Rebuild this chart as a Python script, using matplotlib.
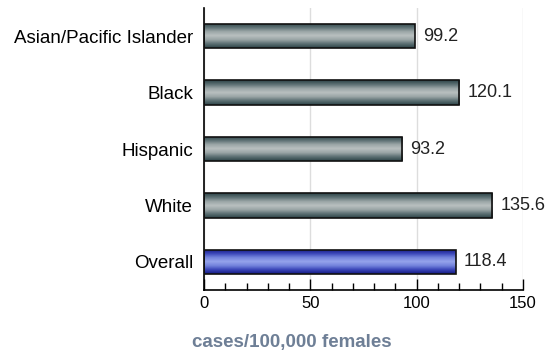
import numpy as np
import matplotlib.pyplot as plt
from matplotlib.patches import Rectangle
from matplotlib.ticker import MultipleLocator
from matplotlib.colors import LinearSegmentedColormap

plt.rcParams['font.family'] = ['Liberation Sans', 'DejaVu Sans']

# data
categories = ['Asian/Pacific Islander', 'Black', 'Hispanic', 'White', 'Overall']
values = [99.2, 120.1, 93.2, 135.6, 118.4]
labels = ['99.2', '120.1', '93.2', '135.6', '118.4']

fig = plt.figure(figsize=(5.46, 3.54), dpi=100)
ax = fig.add_axes([204/546, 64/354, 319/546, 282/354])

# gradient colour maps (dark edge -> light centre -> dark edge)
grey_grad = ['#2c4448', '#5d7073', '#9aa5a6', '#b9c0c0', '#9aa5a6', '#5d7073', '#2c4448']
blue_grad = ['#141a80', '#3a45b8', '#7383dc', '#96a4ec', '#7383dc', '#3a45b8', '#141a80']
cm_grey = LinearSegmentedColormap.from_list('g', grey_grad)
cm_blue = LinearSegmentedColormap.from_list('b', blue_grad)
grad = np.linspace(0, 1, 64).reshape(-1, 1)

h = 0.43
for i, (v, lab) in enumerate(zip(values, labels)):
    cmap = cm_blue if categories[i] == 'Overall' else cm_grey
    rect = Rectangle((0, i - h/2), v, h, facecolor='none', edgecolor='#111111', lw=1.2, zorder=3)
    ax.add_patch(rect)
    im = ax.imshow(grad, cmap=cmap, aspect='auto', extent=(0, v, i + h/2, i - h/2), zorder=2)
    im.set_clip_path(rect)
    ax.text(v + 3.7, i, lab, va='center', ha='left', fontsize=13, color='#222222')

ax.set_xlim(0, 150)
ax.set_ylim(4.5, -0.5)
ax.set_yticks(range(len(categories)))
ax.set_yticklabels(categories, fontsize=13.5)
ax.tick_params(axis='y', length=0, pad=8)

ax.xaxis.set_major_locator(MultipleLocator(50))
ax.xaxis.set_minor_locator(MultipleLocator(10))
ax.tick_params(axis='x', which='major', direction='in', length=8, width=1, labelsize=12, pad=4)
ax.tick_params(axis='x', which='minor', direction='in', length=5, width=1)

ax.grid(axis='x', which='major', color='#dddddd', lw=1, zorder=0)
ax.set_axisbelow(True)
for s in ['top', 'right']:
    ax.spines[s].set_visible(False)
ax.spines['left'].set_linewidth(1.2)
ax.spines['bottom'].set_linewidth(1.2)

fig.text(292/546, 11/354, 'cases/100,000 females', ha='center', va='center',
         fontsize=13.5, fontweight='bold', color='#6e7f96')

fig.savefig('out.png', dpi=100)
